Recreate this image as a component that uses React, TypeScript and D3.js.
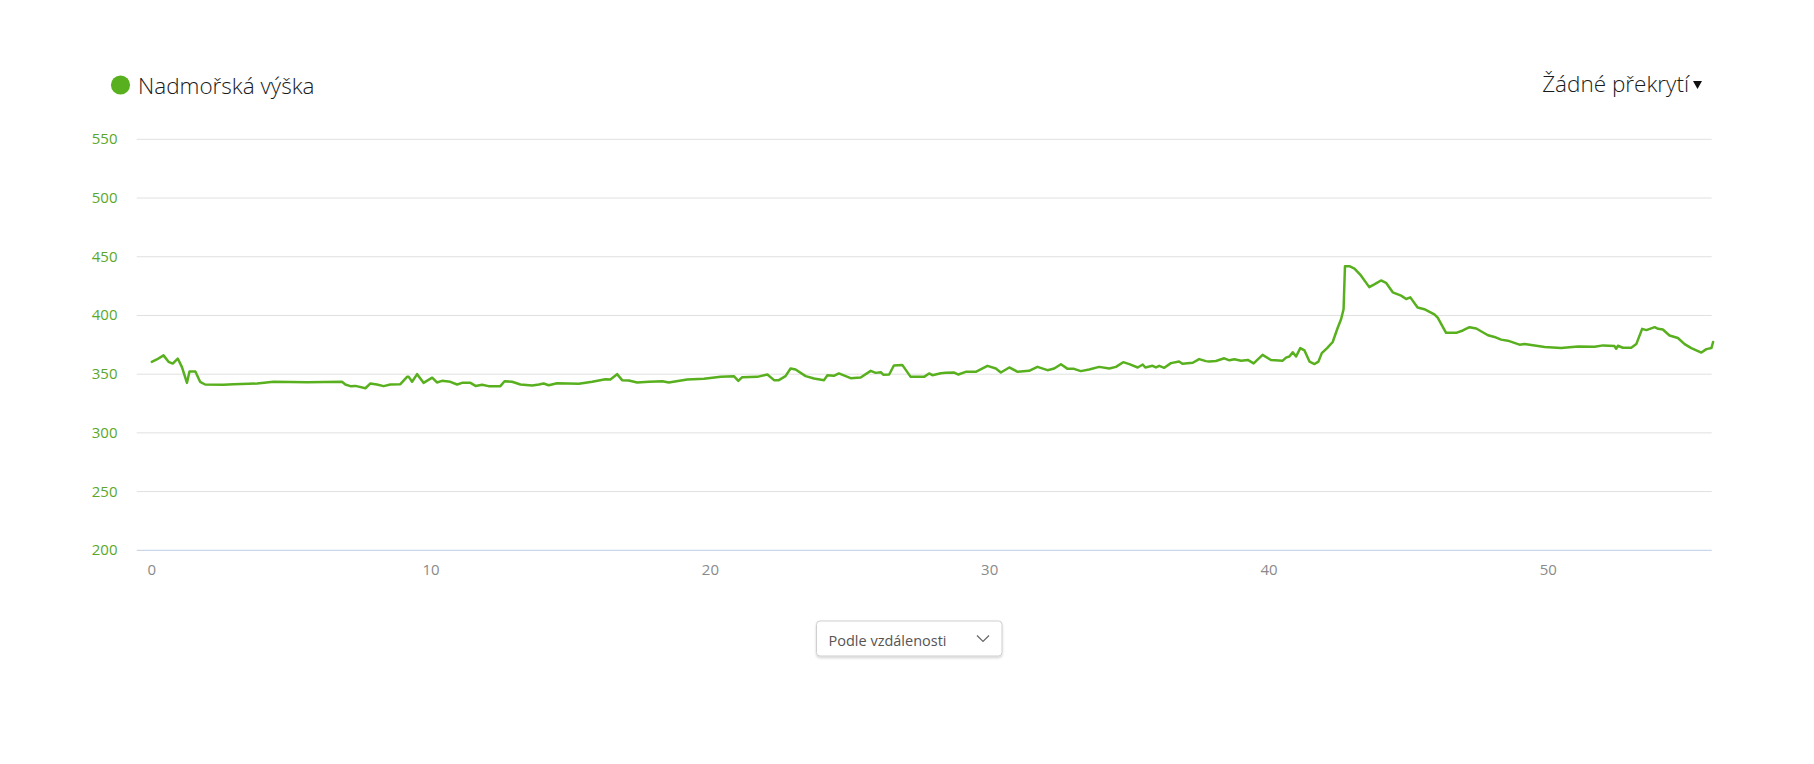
import React from "react";
import * as d3 from "d3";

const distanceKm: number[] = [
  0, 0.18, 0.42, 0.6, 0.75, 0.93, 1.08, 1.26, 1.35, 1.56, 1.73, 1.91, 2.57, 2.93, 3.77, 4.36, 5.56, 6.81, 6.93, 7.11,
  7.29, 7.65, 7.82, 8.06, 8.3, 8.54, 8.9, 9.14, 9.2, 9.32, 9.5, 9.73, 10.04, 10.21, 10.39, 10.69, 10.93, 11.11, 11.41, 11.59,
  11.83, 12.06, 12.48, 12.63, 12.9, 13.2, 13.62, 13.86, 14.03, 14.21, 14.51, 15.29, 15.77, 16.24, 16.42, 16.66, 16.84, 17.08, 17.38, 17.8,
  18.28, 18.51, 19.17, 19.77, 20.37, 20.84, 21.0, 21.14, 21.68, 22.04, 22.28, 22.45, 22.69, 22.87, 23.05, 23.41, 23.71, 24.07, 24.19, 24.42,
  24.6, 25.02, 25.38, 25.74, 25.92, 26.1, 26.2, 26.4, 26.57, 26.87, 27.17, 27.65, 27.83, 27.95, 28.25, 28.43, 28.73, 28.88, 29.14, 29.5,
  29.92, 30.22, 30.4, 30.7, 31.0, 31.41, 31.71, 32.07, 32.31, 32.55, 32.79, 33.02, 33.26, 33.56, 33.92, 34.28, 34.52, 34.78, 35.0, 35.3,
  35.48, 35.57, 35.83, 35.95, 36.07, 36.25, 36.49, 36.78, 36.9, 37.27, 37.5, 37.74, 37.86, 38.1, 38.4, 38.58, 38.76, 39.0, 39.24, 39.45,
  39.77, 40.07, 40.49, 40.61, 40.73, 40.85, 40.97, 41.12, 41.27, 41.45, 41.63, 41.77, 41.89, 42.08, 42.28, 42.46, 42.58, 42.67, 42.72, 42.88,
  43.06, 43.29, 43.59, 43.77, 44.01, 44.19, 44.43, 44.73, 44.91, 45.06, 45.32, 45.56, 45.92, 46.04, 46.34, 46.7, 46.94, 47.18, 47.42, 47.84,
  48.07, 48.31, 48.55, 48.97, 49.15, 49.87, 50.46, 51.06, 51.66, 51.96, 52.37, 52.43, 52.49, 52.67, 52.97, 53.15, 53.36, 53.51, 53.81, 53.93,
  54.1, 54.34, 54.64, 54.88, 55.12, 55.48, 55.66, 55.84, 55.9,
];

const elevationM: number[] = [
  360.5, 362.5, 366, 360.5, 359, 363.3, 356, 342.6, 352.3, 352.3, 343.5, 341.2, 341, 341.5, 342, 343.5, 343.2, 343.5, 341.2, 339.8,
  340, 338, 342, 341.2, 339.8, 341.2, 341.5, 347.7, 347.7, 343.5, 350, 342.6, 347, 342.9, 344.3, 343.5, 341.2, 342.6, 342.6, 340,
  341, 339.8, 339.8, 344, 343.5, 341.2, 340.3, 341.2, 342, 340.6, 342.3, 341.8, 343.5, 345.7, 345.5, 350, 344.9, 344.6, 342.9, 343.5,
  344, 342.9, 345.5, 346, 347.7, 348.3, 344.3, 347.4, 347.7, 349.7, 344.9, 344.9, 348.3, 354.8, 354, 348.3, 346.3, 344.9, 349.1, 348.6,
  350.6, 346.6, 347.2, 352.8, 351.1, 351.7, 349.4, 349.7, 357.4, 357.9, 347.7, 347.7, 350.6, 349.1, 350.8, 351.1, 351.4, 349.7, 352, 352,
  357.1, 354.8, 351.4, 355.7, 352, 352.8, 356.2, 353.4, 354.8, 358.5, 354.5, 354.5, 352.6, 354, 356.2, 354.8, 356.2, 360.2, 358.5, 355.7,
  358.2, 355.7, 357.1, 355.7, 357.1, 355.4, 359.4, 360.8, 358.8, 359.7, 362.8, 361.1, 360.7, 361.2, 363.5, 361.8, 362.7, 361.5, 362.1, 359.2,
  366.4, 362.1, 361.5, 364.1, 365, 368.7, 365, 372.2, 370.2, 360.7, 358.6, 360.7, 367.9, 372.2, 377.4, 389.5, 396.7, 405.3, 441.9, 441.9,
  439.9, 434.1, 424.1, 426.4, 429.8, 427.8, 419.7, 416.9, 414, 415.4, 406.8, 405.3, 401, 398.1, 385.2, 385.2, 387.2, 390, 388.9, 383.1,
  381.7, 379.4, 378.5, 375.1, 375.6, 373.1, 372.2, 373.6, 373.3, 374.5, 373.9, 371.6, 374.2, 372.5, 372.5, 375.6, 388.6, 387.5, 390, 388.6,
  388, 382.9, 380.8, 375.6, 372.2, 368.4, 371.3, 372.2, 377.4,
];

const yTicks: number[] = [200, 250, 300, 350, 400, 450, 500, 550];
const xTicks: number[] = [0, 10, 20, 30, 40, 50];

const seriesName = "Nadmořská výška";
const overlayLabel = "Žádné překrytí";
const sortLabel = "Podle vzdálenosti";

const GREEN = "#58b01f";
const LABEL_GREEN = "#5aa82a";
const FONT = "'Open Sans', 'Noto Sans', sans-serif";

export default function App() {
  const W = 1814;
  const H = 764;
  const left = 136.7;
  const right = 1711.7;
  const top = 139.3;
  const bottom = 550.3;

  const x = d3.scaleLinear().domain([-0.54, 55.85]).range([left, right]);
  const y = d3.scaleLinear().domain([200, 550]).range([bottom, top]);

  const pts: [number, number][] = distanceKm.map((d, i) => [d, elevationM[i]]);
  const lineGen = d3
    .line<[number, number]>()
    .x((d) => x(d[0]))
    .y((d) => y(d[1]))
    .curve(d3.curveLinear);

  return (
    <svg
      width={W}
      height={H}
      style={{ position: "absolute", left: 0, top: 0, display: "block", background: "#fff" }}
      fontFamily={FONT}
    >
      <defs>
        <filter id="ddshadow" x="-10%" y="-30%" width="120%" height="170%">
          <feDropShadow dx="0" dy="1.5" stdDeviation="1.2" floodColor="#000" floodOpacity="0.18" />
        </filter>
      </defs>
      <rect x={0} y={0} width={W} height={H} fill="#fff" />

      {/* legend */}
      <circle cx={120.5} cy={85} r={9.6} fill={GREEN} />
      <text x={138} y={93.5} fontSize={22.5} fontWeight={300} fill="#1a1a1a">
        {seriesName}
      </text>

      {/* overlay selector */}
      <text x={1689} y={91.7} fontSize={22.5} fontWeight={300} fill="#1a1a1a" textAnchor="end">
        {overlayLabel}
      </text>
      <path d="M1693,81 L1702,81 L1697.5,89 Z" fill="#111" />

      {/* gridlines */}
      {yTicks.map((t) =>
        t === 200 ? null : (
          <line key={"g" + t} x1={left} x2={right} y1={y(t)} y2={y(t)} stroke="#e0e0e0" strokeWidth={1} />
        )
      )}
      <line x1={left} x2={right} y1={y(200)} y2={y(200)} stroke="#ccd6eb" strokeWidth={1.2} />

      {/* y labels */}
      {yTicks.map((t) => (
        <text key={"yl" + t} x={117.5} y={y(t) + 5} fontSize={15} fill={LABEL_GREEN} textAnchor="end">
          {t}
        </text>
      ))}

      {/* x labels */}
      {xTicks.map((t) => (
        <text key={"xl" + t} x={x(t)} y={575} fontSize={15} fill="#8a8a8a" textAnchor="middle">
          {t}
        </text>
      ))}

      {/* line */}
      <path d={lineGen(pts) || ""} fill="none" stroke={GREEN} strokeWidth={2.5} strokeLinejoin="round" strokeLinecap="round" />

      {/* dropdown */}
      <rect x={816.5} y={621} width={185.5} height={35} rx={3.5} fill="#fff" stroke="#cfcfcf" strokeWidth={1} filter="url(#ddshadow)" />
      <text x={828.5} y={645.5} fontSize={14.5} fill="#555">
        {sortLabel}
      </text>
      <polyline points="977,635.5 983,641.5 989,635.5" fill="none" stroke="#666" strokeWidth={1.2} />
    </svg>
  );
}
